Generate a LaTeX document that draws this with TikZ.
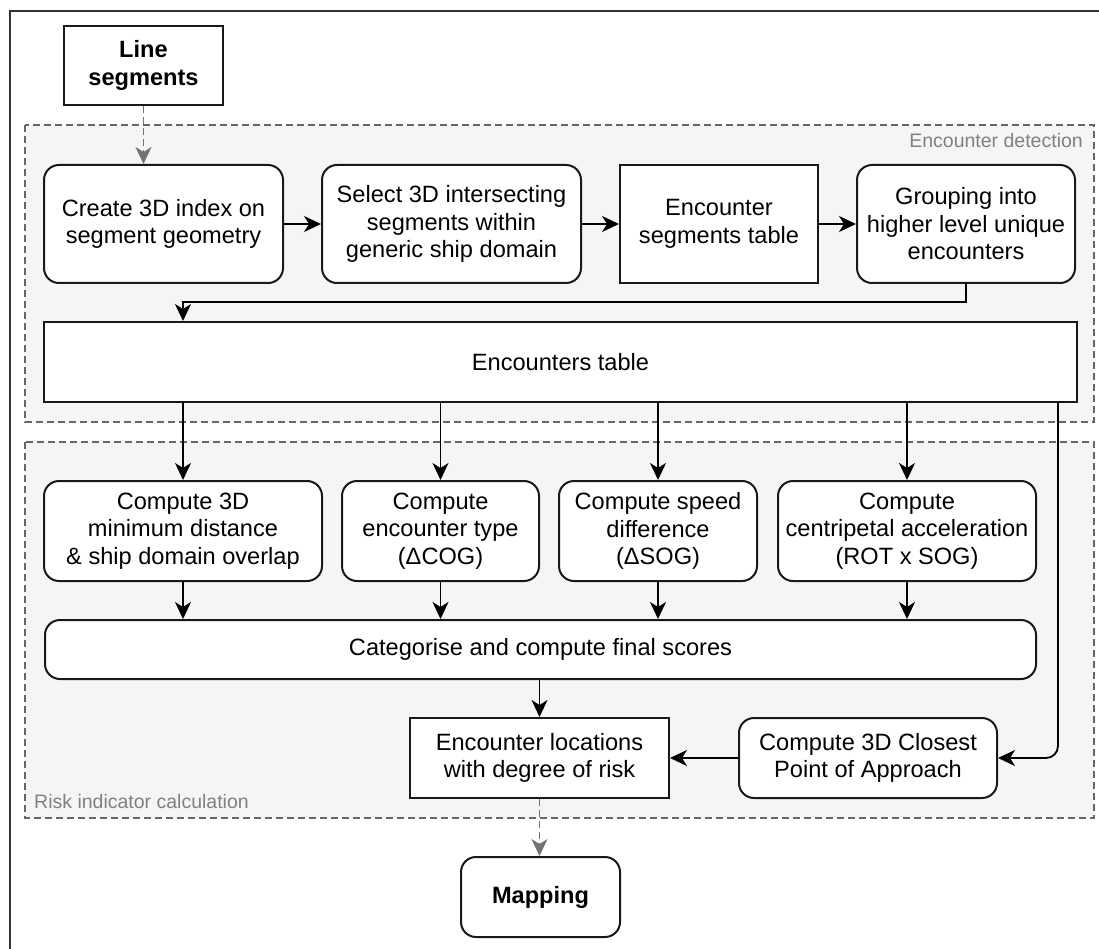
\documentclass[tikz,border=0pt]{standalone}
\usepackage{fontspec}
\setmainfont{Liberation Sans}
\usetikzlibrary{arrows.meta}
\begin{document}
\begin{tikzpicture}[x=1pt,y=-1pt,
  font=\fontsize{23.6}{27.5}\selectfont,
  box/.style={draw=black!90, line width=2pt, fill=white, align=center, inner sep=0pt},
  rbox/.style={box, rounded corners=15pt},
  grp/.style={draw=black!60, dash pattern=on 7pt off 4pt, line width=1.6pt, fill=black!4},
  grplabel/.style={text=black!50, font=\fontsize{19.5}{22}\selectfont, inner sep=0pt},
  arr/.style={line width=1.8pt, draw=black, -{Stealth[length=17pt,width=16pt,inset=5pt]}},
  darr/.style={arr, draw=black!55, dash pattern=on 7pt off 4pt},
]
\useasboundingbox (0,0) rectangle (1099,949);

% outer frame
\draw[line width=1.6pt, black!80] (10,949) -- (10,11) -- (1099,11);

% groups
\draw[grp] (25,125) rectangle (1094,422);
\draw[grp] (25,442) rectangle (1094,818);
\node[grplabel, anchor=base east] (lbldet) at (1083,148) {Encounter detection};
\node[grplabel, anchor=base west] (lblrisk) at (34,808) {Risk indicator calculation};

% input and output
\node[box, font=\fontsize{23.6}{27.5}\selectfont\bfseries, minimum width=159pt, minimum height=79pt] (seg) at (143.5,65.5) {Line\\segments};
\node[rbox, font=\fontsize{23.6}{27.5}\selectfont\bfseries, minimum width=159pt, minimum height=80pt] (map) at (540.5,897) {Mapping};

% encounter detection
\node[rbox, minimum width=239pt, minimum height=118pt] (create) at (163.5,224) {Create 3D index on\\segment geometry};
\node[rbox, minimum width=259pt, minimum height=118pt] (select) at (451.5,224) {Select 3D intersecting\\segments within\\generic ship domain};
\node[box, minimum width=198pt, minimum height=118pt] (table) at (719,224) {Encounter\\segments table};
\node[rbox, minimum width=218pt, minimum height=118pt] (group) at (966,224) {Grouping into\\higher level unique\\encounters};
\node[box, minimum width=1033pt, minimum height=80pt] (enc) at (560.5,362) {Encounters table};

% risk indicator calculation
\node[rbox, minimum width=278pt, minimum height=100pt] (mind) at (183,531) {Compute 3D\\minimum distance\\\& ship domain overlap};
\node[rbox, minimum width=197pt, minimum height=100pt] (type) at (440.5,531) {Compute\\encounter type\\(ΔCOG)};
\node[rbox, minimum width=198pt, minimum height=100pt] (speed) at (658,531) {Compute speed\\difference\\(ΔSOG)};
\node[rbox, minimum width=258pt, minimum height=100pt] (cent) at (907,531) {Compute\\centripetal acceleration\\(ROT x SOG)};
\node[rbox, minimum width=991pt, minimum height=59pt] (cat) at (540.5,649.5) {Categorise and compute final scores};
\node[box, minimum width=259pt, minimum height=80pt] (loc) at (539.5,758) {Encounter locations\\with degree of risk};
\node[rbox, minimum width=258pt, minimum height=80pt] (cpa) at (868,758) {Compute 3D Closest\\Point of Approach};

% connectors
\coordinate (j) at (183,302);
\coordinate (lx) at (1058,0);
\draw[darr] (seg.south) -- (seg.south |- create.north);
\draw[arr] (create) -- (select);
\draw[arr] (select) -- (table);
\draw[arr] (table) -- (group);
\draw[arr] (group.south) |- (j) -- (j |- enc.north);
\foreach \b in {mind,type,speed,cent}{
  \draw[arr] (enc.south -| \b.north) -- (\b.north);
  \draw[arr] (\b.south) -- (\b.south |- cat.north);
}
\draw[arr, rounded corners=12pt] (enc.south -| lx) |- (cpa.east);
\draw[arr] (cat.south -| loc.north) -- (loc.north);
\draw[arr] (cpa.west) -- (loc.east);
\draw[darr] (loc.south) -- (loc.south |- map.north);
\end{tikzpicture}
\end{document}
